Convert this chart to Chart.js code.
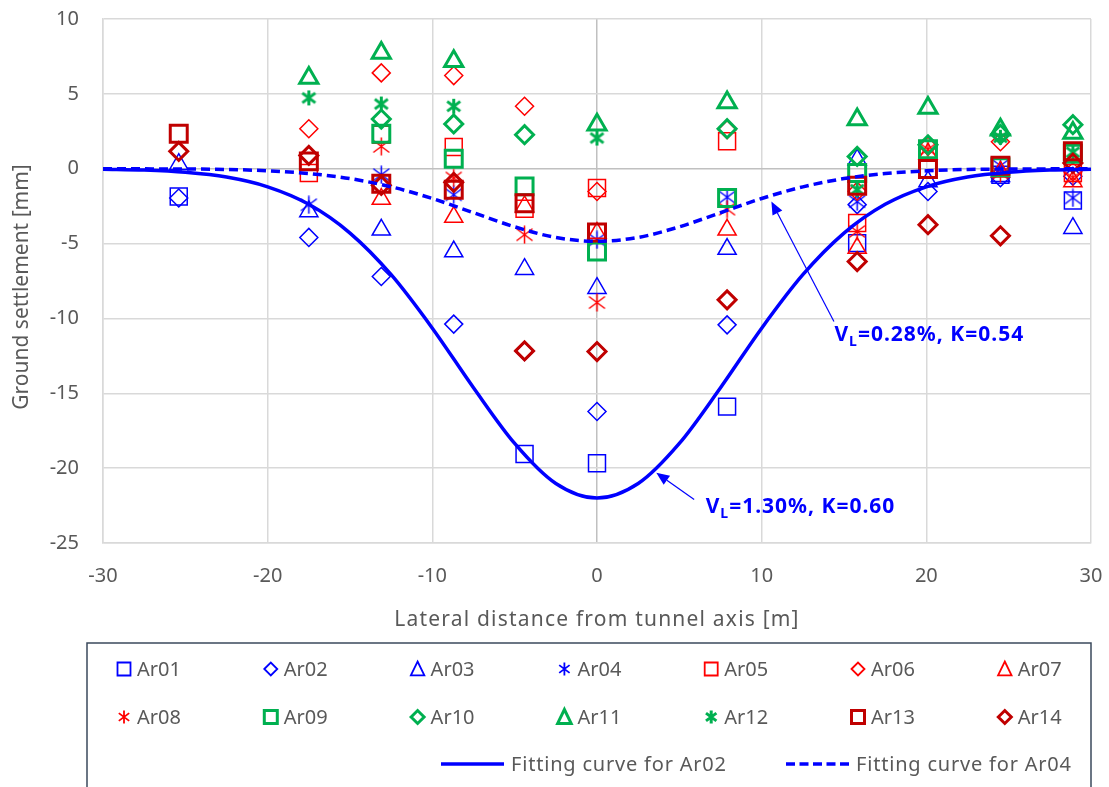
<!DOCTYPE html>
<html>
<head>
<meta charset="utf-8">
<title>Ground settlement</title>
<script src="https://cdn.jsdelivr.net/npm/chart.js@4.4.1/dist/chart.umd.min.js"></script>
<style>
  html, body { margin: 0; padding: 0; background: #fff; }
  #wrap { width: 1109px; height: 787px; }
</style>
</head>
<body>
<div id="wrap"><canvas id="chart" width="1109" height="787"></canvas></div>
<script>
// --- data ---
const xPositions = [-25.4, -17.5, -13.1, -8.7, -4.4, 0, 7.9, 15.8, 20.1, 24.5, 28.9];

const ar01 = [-1.85, null, null, null, -19.05, -19.67, -15.89, -4.97, null, -0.4, -2.12];
const ar02 = [-1.96, -4.59, -7.2, -10.38, -12.2, -16.22, -10.43, -2.4, -1.52, -0.6, -0.5];
const ar03 = [0.3, -2.85, -4.08, -5.53, -6.71, -7.98, -5.37, 0.6, -0.85, -0.5, -3.97];
const ar04 = [null, -2.41, -0.4, -1.74, null, -4.75, -1.9, -2.2, null, 0.2, -1.95];
const ar05 = [null, -0.29, 2.27, 1.45, -2.67, -1.29, 1.83, -3.63, null, null, -0.29];
const ar06 = [null, 2.67, 6.4, 6.22, 4.17, -1.52, 2.6, -1.5, 1.5, 1.8, -0.2];
const ar07 = [null, null, -2.03, -3.23, -2.52, -4.3, -4.08, -5.3, 1.0, -0.2, -0.85];
const ar08 = [null, null, 1.49, -0.62, -4.41, -8.94, -2.7, -4.19, 1.3, -0.3, -0.6];
const ar09 = [null, null, 2.34, 0.67, -1.18, -5.53, -1.96, -0.29, 1.3, 0.1, 1.0];
const ar10 = [null, null, 3.32, 2.99, 2.27, null, 2.67, 0.82, 1.6, 2.3, 2.94];
const ar11 = [null, 6.06, 7.73, 7.17, null, 2.94, 4.43, 3.28, 4.06, 2.6, 2.38];
const ar12 = [null, 4.73, 4.32, 4.17, null, 2.05, null, -1.4, null, 2.1, 1.1];
const ar13 = [2.34, 0.49, -1.0, -1.4, -2.3, -4.26, null, -1.14, -0.02, 0.2, 1.16];
const ar14 = [1.16, 0.89, -1.11, -0.91, -12.17, -12.21, -8.76, -6.2, -3.74, -4.48, 0.38];

const curveX = [-30, -27.5, -25, -22.5, -20, -17.5, -15, -12.5, -10, -7.5, -5, -2.5, 0,
                2.5, 5, 7.5, 10, 12.5, 15, 17.5, 20, 22.5, 25, 27.5, 30];
const fitAr02 = [-0.03, -0.09, -0.24, -0.56, -1.21, -2.38, -4.3, -7.08, -10.65, -14.63, -18.35, -21.03, -22.0,
                 -21.03, -18.35, -14.63, -10.65, -7.08, -4.3, -2.38, -1.21, -0.56, -0.24, -0.09, -0.03];
const fitAr04 = [0, -0.01, -0.02, -0.05, -0.14, -0.32, -0.66, -1.21, -1.99, -2.94, -3.88, -4.59, -4.85,
                 -4.59, -3.88, -2.94, -1.99, -1.21, -0.66, -0.32, -0.14, -0.05, -0.02, -0.01, 0];

const xTickValues = [-30, -20, -10, 0, 10, 20, 30];
const yTickValues = [-25, -20, -15, -10, -5, 0, 5, 10];

// --- styles ---
const BLUE = "#0000FF", RED = "#FF0000", GREEN = "#00B050", DARKRED = "#C00000";
const TXT = "#595959";
const FONT = "'Noto Sans', 'Open Sans', sans-serif";

// asterisk marker like the spreadsheet one (X plus vertical bar)
function makeAsterisk(color, lw, size) {
  const c = document.createElement("canvas");
  c.width = size; c.height = size;
  const g = c.getContext("2d");
  const m = size / 2, d = size / 2 - lw;
  g.strokeStyle = color; g.lineWidth = lw;
  g.beginPath();
  g.moveTo(m, m - d - 1); g.lineTo(m, m + d + 1);
  g.moveTo(m - d, m - d * 0.75); g.lineTo(m + d, m + d * 0.75);
  g.moveTo(m + d, m - d * 0.75); g.lineTo(m - d, m + d * 0.75);
  g.stroke();
  return c;
}

const RADIUS = { rect: 12, rectRot: 9, triangle: 10.5 };

const seriesDefs = [
  ["Ar01", ar01, BLUE, "rect", 1.5],
  ["Ar02", ar02, BLUE, "rectRot", 1.5],
  ["Ar03", ar03, BLUE, "triangle", 1.5],
  ["Ar04", ar04, BLUE, "star", 1.5],
  ["Ar05", ar05, RED, "rect", 1.5],
  ["Ar06", ar06, RED, "rectRot", 1.5],
  ["Ar07", ar07, RED, "triangle", 1.5],
  ["Ar08", ar08, RED, "star", 1.5],
  ["Ar09", ar09, GREEN, "rect", 3],
  ["Ar10", ar10, GREEN, "rectRot", 3],
  ["Ar11", ar11, GREEN, "triangle", 3],
  ["Ar12", ar12, GREEN, "star", 3],
  ["Ar13", ar13, DARKRED, "rect", 3],
  ["Ar14", ar14, DARKRED, "rectRot", 3]
];

function toPoints(xs, ys) {
  const pts = [];
  ys.forEach((y, i) => { if (y !== null) pts.push({ x: xs[i], y: y }); });
  return pts;
}

const datasets = seriesDefs.map(([label, values, color, style, lw], i) => ({
  label: label,
  data: toPoints(xPositions, values),
  showLine: false,
  borderColor: color,
  backgroundColor: "rgba(0,0,0,0)",
  pointStyle: style === "star" ? makeAsterisk(color, lw, 19) : style,
  pointRadius: style === "star" ? 9 : RADIUS[style],
  pointBorderWidth: lw,
  order: 20 - i
}));

datasets.push({
  label: "Fitting curve for Ar02",
  data: toPoints(curveX, fitAr02),
  showLine: true,
  borderColor: BLUE,
  borderWidth: 3.5,
  pointRadius: 0,
  cubicInterpolationMode: "monotone",
  order: 1
});
datasets.push({
  label: "Fitting curve for Ar04",
  data: toPoints(curveX, fitAr04),
  showLine: true,
  borderColor: BLUE,
  borderWidth: 3.5,
  borderDash: [9, 5],
  pointRadius: 0,
  cubicInterpolationMode: "monotone",
  order: 0
});

// annotations (data coordinates)
const notes = [
  { tip: [3.6, -20.3], tail: [5.9, -22.1], text: [6.6, -23.0], rest: "=1.30%, K=0.60" },
  { tip: [10.59, -2.19], tail: [14.39, -10.2], text: [14.42, -11.5], rest: "=0.28%, K=0.54" }
];

function drawMarker(ctx, style, x, y, r, color, lw) {
  ctx.save();
  ctx.strokeStyle = color;
  ctx.lineWidth = lw;
  ctx.beginPath();
  if (style === "rect") {
    ctx.rect(x - r, y - r, 2 * r, 2 * r);
  } else if (style === "rectRot") {
    ctx.moveTo(x - r, y); ctx.lineTo(x, y - r); ctx.lineTo(x + r, y); ctx.lineTo(x, y + r); ctx.closePath();
  } else if (style === "triangle") {
    ctx.moveTo(x, y - r); ctx.lineTo(x + r * 0.9, y + r * 0.85); ctx.lineTo(x - r * 0.9, y + r * 0.85); ctx.closePath();
  } else {
    ctx.moveTo(x, y - r); ctx.lineTo(x, y + r);
    ctx.moveTo(x - r * 0.8, y - r * 0.6); ctx.lineTo(x + r * 0.8, y + r * 0.6);
    ctx.moveTo(x + r * 0.8, y - r * 0.6); ctx.lineTo(x - r * 0.8, y + r * 0.6);
  }
  ctx.stroke();
  ctx.restore();
}

function spacedText(ctx, text, x, y, spacing) {
  ctx.letterSpacing = spacing + "px";
  ctx.fillText(text, x, y);
  const w = ctx.measureText(text).width;
  ctx.letterSpacing = "0px";
  return w;
}

const extrasPlugin = {
  id: "extras",
  afterDraw(chart) {
    const ctx = chart.ctx;
    const xs = chart.scales.x, ys = chart.scales.y;
    const area = chart.chartArea;

    // axis titles
    ctx.save();
    ctx.fillStyle = TXT;
    ctx.font = "21px " + FONT;
    ctx.textBaseline = "middle";
    ctx.textAlign = "center";
    spacedText(ctx, "Lateral distance from tunnel axis [m]", (area.left + area.right) / 2, 620, 1.2);
    ctx.translate(22, 287);
    ctx.rotate(-Math.PI / 2);
    ctx.fillText("Ground settlement [mm]", 0, 0);
    ctx.restore();

    // annotations
    notes.forEach(n => {
      const tx = xs.getPixelForValue(n.tip[0]), ty = ys.getPixelForValue(n.tip[1]);
      const sx = xs.getPixelForValue(n.tail[0]), sy = ys.getPixelForValue(n.tail[1]);
      const ang = Math.atan2(ty - sy, tx - sx);
      const hl = 13, hw = 5.5;
      ctx.save();
      ctx.strokeStyle = BLUE; ctx.fillStyle = BLUE; ctx.lineWidth = 1.2;
      ctx.beginPath();
      ctx.moveTo(sx, sy);
      ctx.lineTo(tx - Math.cos(ang) * hl, ty - Math.sin(ang) * hl);
      ctx.stroke();
      ctx.beginPath();
      ctx.moveTo(tx, ty);
      ctx.lineTo(tx - Math.cos(ang) * hl - Math.sin(ang) * hw, ty - Math.sin(ang) * hl + Math.cos(ang) * hw);
      ctx.lineTo(tx - Math.cos(ang) * hl + Math.sin(ang) * hw, ty - Math.sin(ang) * hl - Math.cos(ang) * hw);
      ctx.closePath();
      ctx.fill();

      let px = xs.getPixelForValue(n.text[0]);
      const py = ys.getPixelForValue(n.text[1]);
      ctx.textBaseline = "alphabetic";
      ctx.textAlign = "left";
      ctx.font = "bold 21px " + FONT;
      px += spacedText(ctx, "V", px, py, 1);
      ctx.font = "bold 14px " + FONT;
      px += spacedText(ctx, "L", px, py + 5, 1);
      ctx.font = "bold 21px " + FONT;
      spacedText(ctx, n.rest, px, py, 1);
      ctx.restore();
    });

    // legend box
    ctx.save();
    ctx.strokeStyle = "#3B4A5C";
    ctx.lineWidth = 1.5;
    ctx.beginPath();
    ctx.moveTo(87, 800); ctx.lineTo(87, 643); ctx.lineTo(1091, 643); ctx.lineTo(1091, 800);
    ctx.stroke();

    ctx.font = "20px " + FONT;
    ctx.fillStyle = TXT;
    ctx.textBaseline = "middle";
    ctx.textAlign = "left";
    const legR = { rect: 6.5, rectRot: 6.5, triangle: 7.5, star: 6.5 };
    seriesDefs.forEach(([label, , color, style, lw], i) => {
      const col = i % 7, row = Math.floor(i / 7);
      const mx = 124 + col * 146.8, my = 669 + row * 48;
      drawMarker(ctx, style, mx, my, legR[style], color, lw === 3 ? 3 : 1.8);
      ctx.fillText(label, mx + 13, my + 1);
    });

    // curve entries
    ctx.strokeStyle = BLUE;
    ctx.lineWidth = 3.5;
    ctx.beginPath(); ctx.moveTo(441, 764); ctx.lineTo(504, 764); ctx.stroke();
    spacedText(ctx, "Fitting curve for Ar02", 511, 765, 0.8);
    ctx.setLineDash([9, 4.5]);
    ctx.beginPath(); ctx.moveTo(786, 764); ctx.lineTo(849, 764); ctx.stroke();
    ctx.setLineDash([]);
    spacedText(ctx, "Fitting curve for Ar04", 856, 765, 0.8);
    ctx.restore();
  }
};

const gridColor = ctx => (ctx.tick && ctx.tick.value === 0 ? "#C0C0C0" : "#D9D9D9");

function noPadding(s) {
  s.paddingLeft = 0; s.paddingRight = 0; s.paddingTop = 0; s.paddingBottom = 0;
}

new Chart(document.getElementById("chart").getContext("2d"), {
  type: "scatter",
  data: { datasets: datasets },
  plugins: [extrasPlugin],
  options: {
    responsive: false,
    devicePixelRatio: 1,
    animation: false,
    events: [],
    layout: { padding: { left: 0, right: 18, top: 19, bottom: 152 } },
    plugins: { legend: { display: false }, tooltip: { enabled: false } },
    scales: {
      x: {
        type: "linear",
        min: -30, max: 30,
        afterBuildTicks: s => { s.ticks = xTickValues.map(v => ({ value: v })); },
        afterFit: s => { s.height = 92; noPadding(s); },
        grid: { color: gridColor, lineWidth: 1.5, drawTicks: false },
        border: { color: "#D9D9D9", width: 1.5 },
        ticks: { color: TXT, font: { family: FONT, size: 20 }, padding: 21, maxRotation: 0 }
      },
      y: {
        type: "linear",
        min: -25, max: 10,
        afterBuildTicks: s => { s.ticks = yTickValues.map(v => ({ value: v })); },
        afterFit: s => { s.width = 103; noPadding(s); },
        grid: { color: gridColor, lineWidth: 1.5, drawTicks: false },
        border: { color: "#D9D9D9", width: 1.5 },
        ticks: { color: TXT, font: { family: FONT, size: 20 }, padding: 24 }
      }
    }
  }
});
</script>
</body>
</html>
